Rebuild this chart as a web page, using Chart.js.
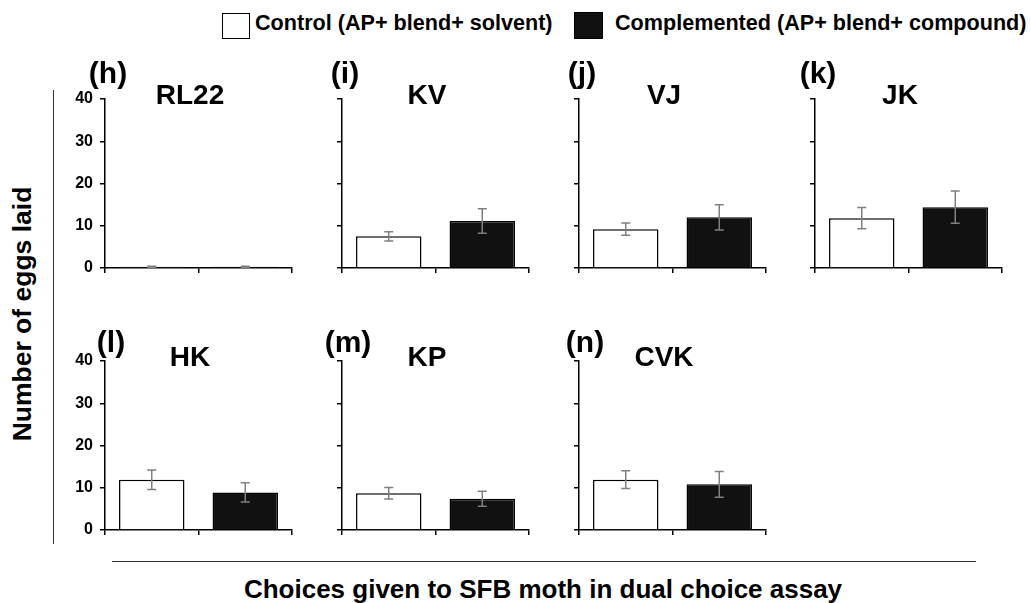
<!DOCTYPE html>
<html>
<head>
<meta charset="utf-8">
<script src="https://cdn.jsdelivr.net/npm/chart.js@4.4.1/dist/chart.umd.min.js"></script>
<style>
body { margin: 0; background: #fff; width: 1031px; height: 603px; position: relative; overflow: hidden;
       font-family: "Liberation Sans", Arial, sans-serif; font-weight: bold; color: #000; }
.txt { position: absolute; white-space: nowrap; line-height: 1; }
canvas { position: absolute; }
.line { position: absolute; background: #333; }
.box { position: absolute; box-sizing: border-box; border: 1.5px solid #000; }
</style>
</head>
<body>
<div class="box" style="left:222px;top:13px;width:28px;height:26px;background:#fff"></div>
<div class="box" style="left:574px;top:12px;width:29px;height:27px;background:#111"></div>
<div class="line" style="left:53px;top:90px;width:1px;height:454px"></div>
<div class="line" style="left:112px;top:561px;width:864px;height:1px"></div>

<script>
var panelNames = ['RL22', 'KV', 'VJ', 'JK', 'HK', 'KP', 'CVK']
var panelLetters = ['(h)', '(i)', '(j)', '(k)', '(l)', '(m)', '(n)']
var choices = ['Control', 'Complemented']
var controlMean = [0.3, 7.5, 9.2, 11.8, 11.9, 8.7, 11.9]
var controlErr = [0.1, 1.1, 1.45, 2.5, 2.3, 1.35, 2.1]
var compMean = [0.3, 11.1, 12.0, 14.4, 8.9, 7.4, 10.8]
var compErr = [0.1, 2.9, 3.0, 3.8, 2.3, 1.75, 3.05]
var yTicks = [0, 10, 20, 30, 40]

// layout of the 7 panels (axis origin x, top of plot area)
var axisX = [105, 342, 579, 815, 105, 342, 579]
var plotTop = [99, 99, 99, 99, 361, 361, 361]
var plotH = 169, plotW = 187, yAxisW = 45, padTop = 20, padBottom = 14

function addText(text, x, baseline, size, align) {
    var d = document.createElement('div')
    d.className = 'txt'
    d.textContent = text
    d.style.fontSize = size + 'px'
    d.style.top = (baseline - 0.85 * size) + 'px'
    d.style.left = x + 'px'
    if (align == 'center') d.style.transform = 'translateX(-50%)'
    document.body.appendChild(d)
    return d
}

addText('Control (AP+ blend+ solvent)', 255, 30, 21.6)
addText('Complemented (AP+ blend+ compound)', 615, 30, 21.6)
addText('Choices given to SFB moth in dual choice assay', 543, 598, 26, 'center')

var yt = document.createElement('div')
yt.className = 'txt'
yt.textContent = 'Number of eggs laid'
yt.style.fontSize = '26.5px'
yt.style.left = '22px'
yt.style.top = '314px'
yt.style.transform = 'translate(-50%, -50%) rotate(-90deg)'
document.body.appendChild(yt)

const errorBars = {
    id: 'errorBars',
    afterDatasetsDraw(chart) {
        const ctx = chart.ctx
        const y = chart.scales.y
        const ds = chart.data.datasets[0]
        ctx.save()
        ctx.strokeStyle = '#808080'
        ctx.lineWidth = 1.5
        chart.getDatasetMeta(0).data.forEach(function (bar, i) {
            const hi = y.getPixelForValue(ds.data[i] + ds.errors[i])
            const lo = y.getPixelForValue(Math.max(0, ds.data[i] - ds.errors[i]))
            ctx.beginPath()
            ctx.moveTo(bar.x, hi); ctx.lineTo(bar.x, lo)
            ctx.moveTo(bar.x - 4.5, hi); ctx.lineTo(bar.x + 4.5, hi)
            ctx.moveTo(bar.x - 4.5, lo); ctx.lineTo(bar.x + 4.5, lo)
            ctx.stroke()
        })
        ctx.restore()
    }
}

for (let p = 0; p < panelNames.length; p++) {
    const cv = document.createElement('canvas')
    const w = yAxisW + plotW + 4
    const h = padTop + plotH + 6 + padBottom
    cv.width = w; cv.height = h
    cv.style.left = (axisX[p] - yAxisW) + 'px'
    cv.style.top = (plotTop[p] - padTop) + 'px'
    cv.style.width = w + 'px'; cv.style.height = h + 'px'
    document.body.appendChild(cv)

    const showLabels = (p == 0 || p == 4)

    new Chart(cv, {
        type: 'bar',
        data: {
            labels: choices,
            datasets: [{
                data: [controlMean[p], compMean[p]],
                errors: [controlErr[p], compErr[p]],
                backgroundColor: ['#fff', '#111'],
                borderColor: '#000',
                borderWidth: 1.5,
                categoryPercentage: 1,
                barPercentage: 0.7
            }]
        },
        options: {
            responsive: false,
            animation: false,
            devicePixelRatio: 1,
            layout: { padding: { top: padTop, right: 4, bottom: padBottom, left: 0 } },
            plugins: { legend: { display: false }, tooltip: { enabled: false }, title: { display: false } },
            scales: {
                x: {
                    z: 1,
                    grid: { offset: true, drawOnChartArea: false, tickLength: 5, color: '#000', lineWidth: 1.5 },
                    border: { display: true, color: '#000', width: 1.5 },
                    ticks: { display: false },
                    afterFit: function (s) { s.height = 6 }
                },
                y: {
                    min: 0, max: 40,
                    afterBuildTicks: function (s) { s.ticks = yTicks.map(v => ({ value: v })) },
                    grid: { drawOnChartArea: false, tickLength: 5, color: '#000', lineWidth: 1.5 },
                    border: { display: true, color: '#000', width: 1.5 },
                    ticks: {
                        display: showLabels, padding: 7, color: '#000',
                        font: { family: 'Arial', size: 16, weight: 'bold' }
                    },
                    afterFit: function (s) { s.width = yAxisW }
                }
            }
        },
        plugins: [errorBars]
    })

    const top = plotTop[p] == 99
    addText(panelNames[p], axisX[p] + 85, plotTop[p] + 6, 28, 'center')
    addText(panelLetters[p], axisX[p] + (top ? 3 : 6), top ? 83 : 352, 30, 'center')
}
</script>
</body>
</html>
